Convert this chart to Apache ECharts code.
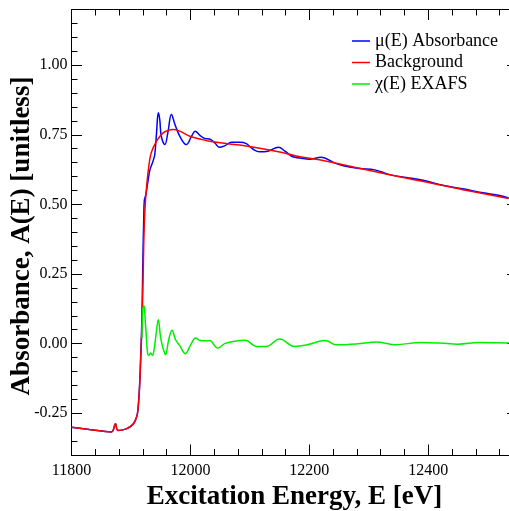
<!DOCTYPE html>
<html>
<head>
<meta charset="utf-8">
<script src="https://cdn.jsdelivr.net/npm/echarts@6/dist/echarts.min.js"></script>
<style>html,body{margin:0;padding:0;background:#fff;}#c{width:509px;height:511px;}</style>
</head>
<body>
<div id="c"></div>
<script>
// ---- data ----
var seriesNames = ['\u03bc(E) Absorbance', 'Background', '\u03c7(E) EXAFS'];
var xMajorTicks = [11800, 12000, 12200, 12400];
var yMajorTicks = [-0.25, 0, 0.25, 0.5, 0.75, 1.0];

// mu(E) absorbance: [energy eV, absorbance]
var muPoints = [[11800,-0.300],[11830,-0.308],[11867,-0.317],[11874,-0.288],[11878,-0.312],[11892,-0.306],[11903,-0.291],[11908,-0.272],[11911,-0.250],[11914,-0.170],[11916.5,-0.040],[11918.5,0.100],[11920,0.300],[11921.5,0.450],[11922.5,0.515],[11925,0.535],[11929,0.589],[11932,0.625],[11937,0.655],[11940,0.679],[11943,0.757],[11946,0.829],[11948.4,0.805],[11951,0.745],[11957,0.715],[11962,0.757],[11968,0.823],[11974,0.787],[11982,0.745],[11993,0.715],[12002,0.745],[12008,0.763],[12016,0.748],[12024,0.737],[12032,0.735],[12041,0.721],[12049,0.705],[12058,0.711],[12069,0.723],[12083,0.723],[12094,0.718],[12105,0.699],[12116,0.689],[12130,0.691],[12148,0.705],[12159,0.691],[12172,0.671],[12184,0.667],[12200,0.662],[12220,0.669],[12242,0.649],[12257,0.639],[12284,0.629],[12310,0.624],[12335,0.607],[12368,0.595],[12391,0.587],[12424,0.569],[12458,0.556],[12492,0.542],[12520,0.532],[12535,0.523]];

// background
var bkgPoints = [[11800,-0.300],[11830,-0.308],[11867,-0.317],[11874,-0.288],[11878,-0.312],[11892,-0.306],[11903,-0.291],[11908,-0.272],[11911,-0.250],[11914,-0.175],[11916.5,-0.050],[11918.7,0.080],[11920.5,0.250],[11922,0.400],[11924,0.500],[11927,0.580],[11930,0.637],[11934,0.685],[11943,0.727],[11954,0.757],[11963,0.766],[11971,0.769],[11982,0.763],[11999,0.745],[12016,0.735],[12032,0.727],[12066,0.717],[12083,0.713],[12150,0.688],[12178,0.674],[12217,0.660],[12290,0.627],[12368,0.592],[12402,0.578],[12458,0.553],[12535,0.521]];

// chi(E) EXAFS
var chiPoints = [[11918.5,0.020],[11920,0.125],[11922,0.136],[11923.5,0.100],[11926,0.020],[11928,-0.035],[11930,-0.042],[11933,-0.034],[11936,-0.042],[11939,-0.020],[11942,0.030],[11946,0.086],[11949.6,0.026],[11953,-0.010],[11956,-0.030],[11958,-0.040],[11963.5,0.014],[11969,0.048],[11975,0.014],[11982,-0.007],[11991.6,-0.036],[11999,-0.010],[12009,0.020],[12015.6,0.012],[12025.7,0.010],[12032,0.011],[12046,-0.016],[12057.6,0.000],[12071.6,0.008],[12092.4,0.012],[12111,-0.010],[12128,-0.010],[12150,0.017],[12175,-0.010],[12195,-0.005],[12227,0.011],[12245,-0.004],[12279,-0.001],[12313,0.006],[12343,-0.004],[12388,0.004],[12419,0.002],[12450,-0.002],[12486,0.004],[12535,0.002]];

// ---- chart ----
var FONT = 'Liberation Serif';
var X_MIN = 11800, X_MAX = 12550, Y_MIN = -0.4, Y_MAX = 1.2;

function xAxisDef(pos, major) {
  var a = {
    type: 'value', position: pos, min: X_MIN, max: X_MAX,
    interval: major ? 200 : 40,
    axisLine: { show: major, onZero: false, lineStyle: { color: '#000', width: 1 } },
    axisTick: { show: true, inside: true, length: major ? 10.5 : 6, lineStyle: { color: '#000', width: 1 } },
    axisLabel: { show: false },
    splitLine: { show: false }
  };
  if (major) a.axisTick.customValues = xMajorTicks;
  if (major && pos === 'bottom') {
    a.axisLabel = { show: true, margin: 8, color: '#000', fontFamily: FONT, fontSize: 16,
      customValues: xMajorTicks, formatter: function (v) { return String(v); } };
    a.name = 'Excitation Energy, E [eV]';
    a.nameLocation = 'middle';
    a.nameGap = 27;
    a.nameTextStyle = { color: '#000', fontFamily: FONT, fontWeight: 'bold', fontSize: 27 };
  }
  return a;
}
function yAxisDef(pos, major) {
  var a = {
    type: 'value', position: pos, min: Y_MIN, max: Y_MAX,
    axisLine: { show: major, onZero: false, lineStyle: { color: '#000', width: 1 } },
    axisTick: { show: true, inside: true, length: major ? 10.5 : 6, lineStyle: { color: '#000', width: 1 } },
    axisLabel: { show: false },
    splitLine: { show: false }
  };
  if (major) {
    a.axisTick.customValues = yMajorTicks;
    if (pos === 'left') {
      a.axisLabel = { show: true, margin: 4, color: '#000', fontFamily: FONT, fontSize: 16,
        customValues: yMajorTicks, formatter: function (v) { return v.toFixed(2); } };
    }
  } else {
    a.interval = 0.05;
  }
  return a;
}

var chart = echarts.init(document.getElementById('c'), null, { renderer: 'canvas' });
chart.setOption({
  animation: false,
  backgroundColor: '#fff',
  grid: { left: 71.5, top: 9.5, right: -8.5, bottom: 56, containLabel: false, outerBoundsMode: 'none' },
  xAxis: [xAxisDef('bottom', true), xAxisDef('bottom', false), xAxisDef('top', true), xAxisDef('top', false)],
  yAxis: [yAxisDef('left', true), yAxisDef('left', false), yAxisDef('right', true), yAxisDef('right', false)],
  legend: {
    orient: 'vertical', left: 347, top: 27, padding: 5, itemWidth: 18, itemHeight: 1.5, itemGap: 3.5, icon: 'rect',
    textStyle: { color: '#000', fontFamily: FONT, fontSize: 18, lineHeight: 18 },
    data: seriesNames
  },
  graphic: [{
    type: 'text', x: 22, y: 236, rotation: Math.PI / 2,
    style: { text: 'Absorbance, A(E) [unitless]', font: 'bold 27px "Liberation Serif"', fill: '#000',
      textAlign: 'center', textVerticalAlign: 'middle' }
  }],
  series: [
    { name: seriesNames[0], type: 'line', data: muPoints, symbol: 'none', smooth: 0.4,
      lineStyle: { color: '#0000ff', width: 1.5 }, itemStyle: { color: '#0000ff' }, clip: true },
    { name: seriesNames[1], type: 'line', data: bkgPoints, symbol: 'none', smooth: 0.4,
      lineStyle: { color: '#ff0000', width: 1.5 }, itemStyle: { color: '#ff0000' }, clip: true },
    { name: seriesNames[2], type: 'line', data: chiPoints, symbol: 'none', smooth: 0.4,
      lineStyle: { color: '#00ee00', width: 1.5 }, itemStyle: { color: '#00ee00' }, clip: true }
  ]
});
</script>
</body>
</html>
